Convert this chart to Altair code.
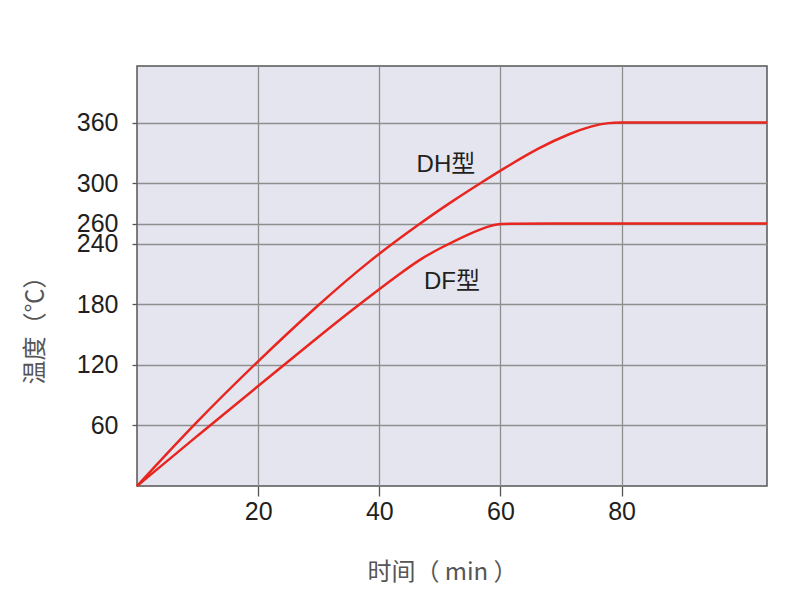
import altair as alt
import pandas as pd

# DH curve
dh_t = [0, 10, 20, 30, 38.5, 46.8, 52, 57.5, 60, 66.6, 71.6, 75, 78, 80, 82, 104]
dh_v = [0, 65, 124, 180, 224, 260.5, 282, 303, 312.5, 336, 349.5, 356.5, 360, 360, 360, 360]
# DF curve
df_t = [0, 10, 20, 30, 35, 40, 43, 46.8, 50, 55, 58, 60, 62, 104]
df_v = [0, 50, 99, 148, 172, 195, 208.5, 225, 235.5, 250.3, 257.5, 260, 260, 260]

x_ticks = [20, 40, 60, 80]
y_ticks = [60, 120, 180, 240, 260, 300, 360]

label_text = ["DH型", "DF型"]
label_x = [51.0, 52.0]
label_y = [318, 202]

rows = [{"t": t, "v": v, "s": "DH"} for t, v in zip(dh_t, dh_v)] + \
       [{"t": t, "v": v, "s": "DF"} for t, v in zip(df_t, df_v)]
data = pd.DataFrame(rows)
labels = pd.DataFrame({"text": label_text, "x": label_x, "y": label_y})

RED = "#e8261f"
LABEL_FONT = "Liberation Sans"
CJK = "Noto Sans CJK SC"

x_enc = alt.X(
    "t:Q",
    scale=alt.Scale(domain=[0, 104], nice=False, zero=False),
    axis=alt.Axis(
        values=x_ticks, grid=True, gridColor="#8e8e8e", gridWidth=1.3,
        domain=False, ticks=True, tickSize=10, tickColor="#555", tickWidth=1.3,
        labelFont=LABEL_FONT, labelFontSize=25, labelColor="#231f20", labelPadding=3,
        labelOverlap=False,
        title="时间（ min ）", titleFont=CJK, titleFontSize=24, titleColor="#555555",
        titleFontWeight="normal", titleX=305, titleY=86, titleAlign="center",
        titleBaseline="middle",
    ),
)
y_enc = alt.Y(
    "v:Q",
    scale=alt.Scale(domain=[0, 416], nice=False, zero=False),
    axis=alt.Axis(
        values=y_ticks, grid=True, gridColor="#8e8e8e", gridWidth=1.3,
        domain=False, ticks=True, tickSize=5, tickColor="#555", tickWidth=1.3,
        labelFont=LABEL_FONT, labelFontSize=25, labelColor="#231f20", labelPadding=14,
        labelOverlap=False,
        title="温度（℃）", titleFont=CJK, titleFontSize=24, titleColor="#555555",
        titleFontWeight="normal", titleX=-102, titleY=258, titleAlign="center",
        titleBaseline="middle", titleAngle=270,
    ),
)

lines = alt.Chart(data).mark_line(
    color=RED, strokeWidth=2.5, interpolate="basis"
).encode(x=x_enc, y=y_enc, detail="s:N")

texts = alt.Chart(labels).mark_text(
    font="Liberation Sans, Noto Sans CJK SC", fontSize=24, color="#231f20",
    align="center", baseline="middle"
).encode(x="x:Q", y="y:Q", text="text:N")

chart = alt.layer(lines, texts).properties(
    width=630, height=420,
    autosize=alt.AutoSizeParams(type="none"),
    padding={"left": 129, "top": 58, "right": 20, "bottom": 100},
    background="white",
).configure_view(
    fill="#e5e5ef", stroke="#555555", strokeWidth=1.5
)

chart.save("out.html", embed_options={"renderer": "svg", "actions": False})
